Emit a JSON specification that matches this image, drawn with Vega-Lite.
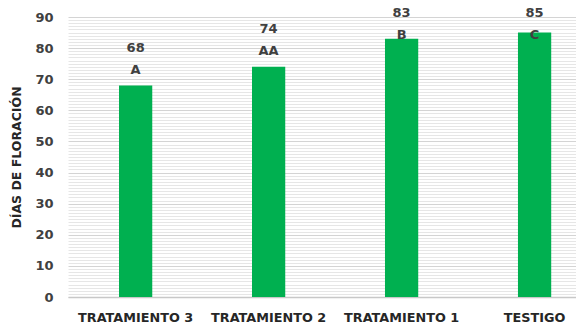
{
  "$schema": "https://vega.github.io/schema/vega-lite/v6.json",
  "autosize": "none",
  "width": 508,
  "height": 280,
  "padding": {"left": 68, "top": 17, "right": 0, "bottom": 33},
  "background": "white",
  "config": {
    "view": {"stroke": null},
    "font": "DejaVu Sans",
    "axis": {"labelFont": "DejaVu Sans", "titleFont": "DejaVu Sans"}
  },
  "data": {
    "values": [
      {"tratamiento": "TRATAMIENTO 3", "dias": 68, "letra": "A"},
      {"tratamiento": "TRATAMIENTO 2", "dias": 74, "letra": "AA"},
      {"tratamiento": "TRATAMIENTO 1", "dias": 83, "letra": "B"},
      {"tratamiento": "TESTIGO", "dias": 85, "letra": "C"}
    ]
  },
  "transform": [
    {"calculate": "min(datum.dias + 12, 91.3)", "as": "pos_valor"},
    {"calculate": "min(datum.dias + 5, 84.3)", "as": "pos_letra"}
  ],
  "encoding": {
    "x": {
      "field": "tratamiento",
      "type": "nominal",
      "sort": null,
      "scale": {"paddingInner": 0.75, "paddingOuter": 0.285, "align": 0.673},
      "axis": {
        "title": null,
        "labelAngle": 0,
        "labelFontSize": 12.8,
        "labelFontWeight": "bold",
        "labelColor": "#262626",
        "labelPadding": 14,
        "ticks": false,
        "domain": true,
        "domainColor": "#c8c8c8",
        "domainWidth": 1.5,
        "grid": false
      }
    }
  },
  "layer": [
    {
      "mark": {"type": "bar", "color": "#00B050"},
      "encoding": {
        "y": {
          "field": "dias",
          "type": "quantitative",
          "scale": {"domain": [0, 90], "nice": false},
          "axis": {
            "title": "DÍAS DE FLORACIÓN",
            "titleFontSize": 12.5,
            "titleFontWeight": "bold",
            "titleColor": "#262626",
            "titlePadding": 11,
            "tickCount": 90,
            "labelExpr": "datum.value % 10 === 0 ? datum.label : ''",
            "labelFontSize": 13,
            "labelFontWeight": "bold",
            "labelColor": "#404040",
            "labelPadding": 15,
            "ticks": false,
            "domain": false,
            "grid": true,
            "gridColor": {"condition": {"test": "datum.value % 10 === 0", "value": "#d4d4d4"}, "value": "#e6e6e6"},
            "gridWidth": 1
          }
        }
      }
    },
    {
      "mark": {"type": "text", "fontSize": 13, "fontWeight": "bold", "color": "#404040", "baseline": "middle"},
      "encoding": {
        "y": {"field": "pos_valor", "type": "quantitative"},
        "text": {"field": "dias", "type": "quantitative"}
      }
    },
    {
      "mark": {"type": "text", "fontSize": 13, "fontWeight": "bold", "color": "#404040", "baseline": "middle"},
      "encoding": {
        "y": {"field": "pos_letra", "type": "quantitative"},
        "text": {"field": "letra", "type": "nominal"}
      }
    }
  ]
}
